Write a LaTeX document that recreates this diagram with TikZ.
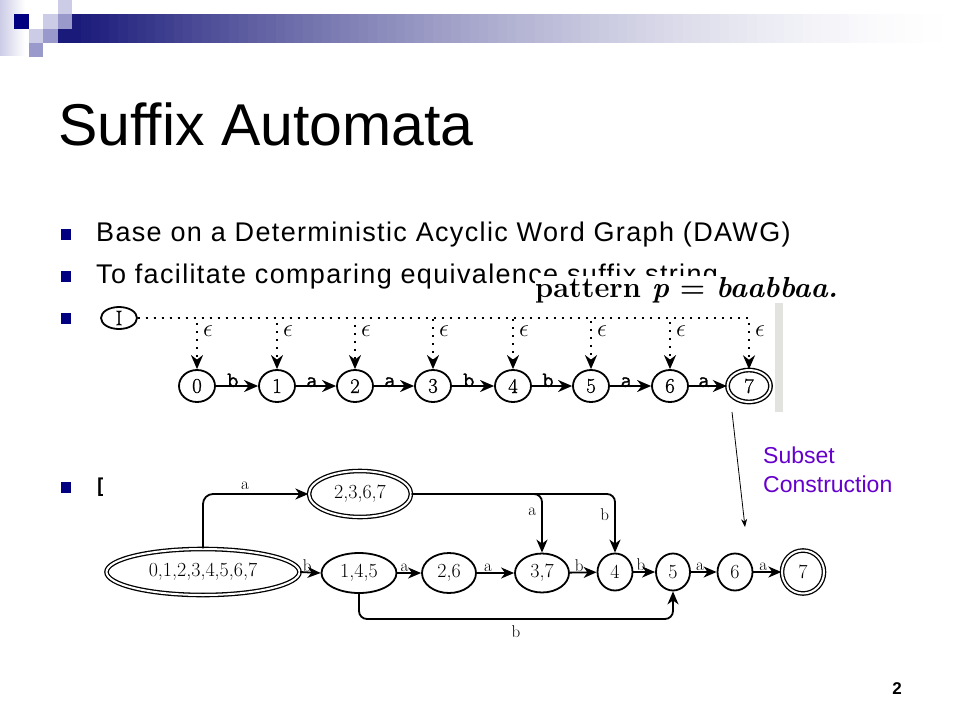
\documentclass[tikz,border=0pt]{standalone}
\usepackage[no-math]{fontspec}
\setmainfont{Liberation Sans}
\newfontfamily\lmr{Latin Modern Roman}
\newfontfamily\lmrh[FakeBold=0.8]{Latin Modern Roman}
\newfontfamily\lmtth[FakeBold=1.2]{Latin Modern Mono}
\newfontfamily\spaced[LetterSpace=5.0]{Liberation Sans}
\usetikzlibrary{arrows.meta,shapes.geometric}
\definecolor{navyA}{RGB}{0,0,128}
\definecolor{lightsq}{RGB}{204,204,230}
\definecolor{medsq}{RGB}{153,153,204}
\definecolor{barstart}{RGB}{26,26,122}
\definecolor{purp}{RGB}{102,0,204}
\definecolor{bargray}{RGB}{226,226,222}
\tikzset{
  bulletsq/.style={fill=navyA, draw=none, minimum width=10pt, minimum height=11pt, inner sep=0pt},
  btext/.style={anchor=base west, inner sep=0pt, font=\spaced\fontsize{27}{32}\selectfont},
  ust/.style={ellipse, draw, line width=1.8pt, inner sep=0pt, minimum width=36pt, minimum height=32pt, font=\lmrh\fontsize{21}{21}\selectfont},
  ufinal/.style={ust, double, line width=1.4pt, double distance=2pt, minimum width=43pt, minimum height=32pt},
  tip/.style={-{Stealth[length=14pt,width=12pt,inset=4.5pt]}},
  uarr/.style={tip, line width=1.8pt},
  dotline/.style={line width=2pt, dash pattern=on 2pt off 6pt},
  ulab/.style={anchor=south, inner sep=0pt, font=\lmtth\fontsize{22}{22}\selectfont},
  eps/.style={right, inner sep=5pt, font=\fontsize{24}{24}\selectfont},
  lst/.style={ellipse, draw, line width=1.8pt, inner sep=0pt, font=\lmr\fontsize{20}{20}\selectfont},
  lfinal/.style={lst, double, line width=1.3pt, double distance=2pt},
  larr/.style={-{Stealth[length=13pt,width=11pt,inset=4pt]}, line width=1.8pt},
  llab/.style={inner sep=1pt, font=\lmr\fontsize{17}{17}\selectfont},
}
\begin{document}
\begin{tikzpicture}[x=1pt,y=-1pt]
\path[use as bounding box, fill=white] (0,0) rectangle (960,720);
% header decoration
\shade[left color=lightsq, right color=white] (0,0) rectangle (25,55);
\foreach \i in {0,...,95}{
  \pgfmathsetmacro{\t}{\i/95}
  \pgfmathsetmacro{\p}{100*(1-\t)^1.6}
  \fill[barstart!\p!white] (72+\i*9.25,14) rectangle ++(9.6,29);
}
\fill[barstart] (58,29) rectangle (73,43);
\fill[lightsq] (58,0) rectangle (72,14);
\fill[navyA] (14,14) rectangle (29,29);
\fill[lightsq] (43,14) rectangle (58,29);
\fill[medsq] (58,14) rectangle (72,29);
\fill[lightsq] (29,29) rectangle (43,43);
\fill[medsq] (43,29) rectangle (58,43);
\fill[medsq] (29,43) rectangle (43,57);
% title
\node[anchor=base west, inner sep=0pt, font=\fontsize{59}{60}\selectfont] (title) at (58,145) {Suffix Automata};
% bullets
\node[bulletsq] (b1) at (66,234) {};
\node[bulletsq] (b2) at (66,276) {};
\node[bulletsq] (b3) at (66,318) {};
\node[bulletsq] (b4) at (66,487) {};
\node[btext] (t1) at (96,241) {Base on a Deterministic Acyclic Word Graph (DAWG)};
\node[btext] (t2) at (96,283) {To facilitate comparing equivalence suffix string};
\begin{scope}
\clip (90,465) rectangle (102,500);
\node[btext] (t4) at (96,496) {D};
\end{scope}
% pattern label
\fill[white] (535,276) rectangle (842,306);
\node[anchor=base west, inner sep=0pt, font=\lmr\bfseries\fontsize{29}{29}\selectfont] (pat) at (535,297) {pattern \textit{p} = \textit{baabbaa.}};
% upper automaton
\fill[bargray] (775,303) rectangle (783,412);
\node[ust, minimum width=36pt, minimum height=22pt] (uI) at (119,318) {I};
\node[ust] (u0) at (197,386) {0};
\node[ust] (u1) at (277,386) {1};
\node[ust] (u2) at (355,386) {2};
\node[ust] (u3) at (433,386) {3};
\node[ust] (u4) at (513,386) {4};
\node[ust] (u5) at (591,386) {5};
\node[ust] (u6) at (670,386) {6};
\node[ufinal] (u7) at (749,386) {7};
\foreach \s in {u0,u1,u2,u3,u4,u5,u6,u7}{
  \draw[dotline, tip] (uI.east) -| node[eps, pos=0.63]{$\epsilon$} (\s.north);
}
\draw[uarr] (u0) -- node[ulab, pos=0.4, yshift=-2pt]{b} (u1);
\draw[uarr] (u1) -- node[ulab, pos=0.4, yshift=-2pt]{a} (u2);
\draw[uarr] (u2) -- node[ulab, pos=0.4, yshift=-2pt]{a} (u3);
\draw[uarr] (u3) -- node[ulab, pos=0.4, yshift=-2pt]{b} (u4);
\draw[uarr] (u4) -- node[ulab, pos=0.4, yshift=-2pt]{b} (u5);
\draw[uarr] (u5) -- node[ulab, pos=0.4, yshift=-2pt]{a} (u6);
\draw[uarr] (u6) -- node[ulab, pos=0.4, yshift=-2pt]{a} (u7);
% subset construction
\node[anchor=base west, inner sep=0pt, text=purp, font=\fontsize{23}{23}\selectfont] (sub1) at (763,463) {Subset};
\node[anchor=base west, inner sep=0pt, text=purp, font=\fontsize{23}{23}\selectfont] (sub2) at (763,492) {Construction};
\coordinate (sarrS) at (732,412);
\coordinate (sarrE) at (745,527);
\draw[line width=0.8pt, -{Stealth[length=8pt,width=6pt]}] (sarrS) -- (sarrE);
% lower automaton
\node[lfinal, minimum width=193pt, minimum height=46pt] (A) at (203,572) {0,1,2,3,4,5,6,7};
\node[lfinal, minimum width=102pt, minimum height=46pt] (B) at (360,494) {2,3,6,7};
\node[lst, minimum width=75pt, minimum height=40pt] (C) at (359,573) {1,4,5};
\node[lst, minimum width=54pt, minimum height=40pt] (D) at (449,573) {2,6};
\node[lst, minimum width=54pt, minimum height=39pt] (E) at (542,573) {3,7};
\node[lst, minimum width=35pt, minimum height=37pt] (F) at (615,572) {4};
\node[lst, minimum width=34pt, minimum height=37pt] (G) at (673,572) {5};
\node[lst, minimum width=35pt, minimum height=37pt] (H) at (735,572) {6};
\node[lfinal, minimum width=42pt, minimum height=43pt] (J) at (803,572) {7};
\coordinate (ybot) at (0,619);
\draw[larr, rounded corners=10pt] (A.north) |- node[llab, pos=0.7, above=2pt]{a} (B.west);
\draw[larr] (A.east) -- node[llab, pos=0.35, above=-1pt]{b} (C.west);
\draw[larr] (C) -- node[llab, pos=0.3, above=-1pt]{a} (D);
\draw[larr] (D) -- node[llab, pos=0.3, above=-1pt]{a} (E);
\draw[larr] (E) -- node[llab, pos=0.35, above=-1pt]{b} (F);
\draw[larr] (F) -- node[llab, pos=0.35, above=-1pt]{b} (G);
\draw[larr] (G) -- node[llab, pos=0.35, above=-1pt]{a} (H);
\draw[larr] (H) -- node[llab, pos=0.35, above=-1pt]{a} (J);
\draw[larr, rounded corners=8pt] (B.east) -| node[llab, pos=0.65, left=4pt]{a} (E.north);
\draw[larr, rounded corners=8pt] (B.east) -| node[llab, pos=0.68, left=4pt]{b} (F.north);
\draw[larr, rounded corners=8pt] (C.south) |- node[llab, pos=0.75, below=5pt]{b} (ybot -| G.south) -- (G.south);
% page number
\node[inner sep=0pt, font=\bfseries\fontsize{17}{17}\selectfont] (pg) at (897,689) {2};
\end{tikzpicture}
\end{document}
